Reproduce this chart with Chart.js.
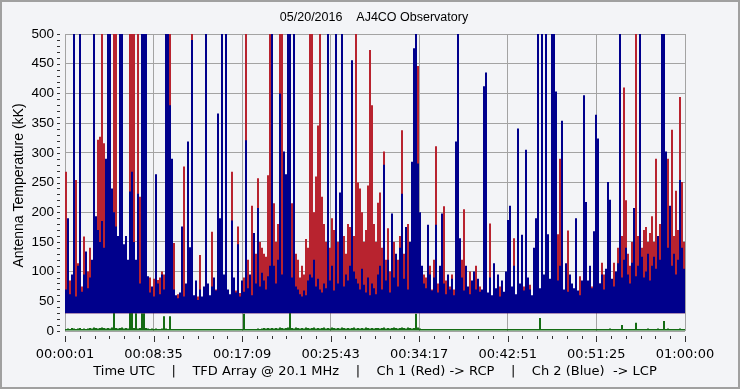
<!DOCTYPE html>
<html>
<head>
<meta charset="utf-8">
<script src="https://cdn.jsdelivr.net/npm/chart.js@4/dist/chart.umd.min.js"></script>
<style>
html,body{margin:0;padding:0;background:#F3F4F7;overflow:hidden;}
canvas{display:block;}
</style>
</head>
<body>
<canvas id="c" width="740" height="389"></canvas>
<script>
// ---- tick labels ----
const timeLabels = ['00:00:01','00:08:35','00:17:09','00:25:43','00:34:17','00:42:51','00:51:25','01:00:00'];
const timeSeconds = [1, 515, 1029, 1543, 2057, 2571, 3085, 3600];
const chartTitle = '05/20/2016    AJ4CO Observatory';
const yTitle = 'Antenna Temperature (kK)';
const xTitle = 'Time UTC    |    TFD Array @ 20.1 MHz    |    Ch 1 (Red) -> RCP    |    Ch 2 (Blue)  -> LCP';

// ---- series: peak antenna temperature (kK) per time column ----
const ch1Red = [
 268,60,85,70,80,254,114,60,75,159,90,100,140,95,110,150,322,327,520,316,282,150,140,160,520,520,150,130,120,110,130,100,520,520,520,110,520,226,520,520,200,80,90,70,88,95,86,90,100,95,110,520,
 520,100,148,55,62,50,70,277,60,75,85,520,55,80,58,128,52,65,80,60,55,167,62,70,75,90,85,75,88,62,60,268,72,68,176,64,75,90,520,120,90,211,110,130,257,150,140,130,125,262,520,150,
 215,150,180,520,520,260,240,200,170,215,160,130,120,90,110,95,155,140,520,520,200,260,346,520,226,180,150,163,140,190,170,274,150,140,120,160,130,180,175,307,160,520,250,240,200,150,170,245,473,380,180,150,
 216,233,140,302,120,173,100,90,150,80,120,160,338,130,85,180,95,100,150,300,446,110,80,95,90,75,110,70,120,311,80,72,90,210,85,66,75,95,70,80,90,75,120,205,95,70,100,80,95,110,85,75,
 52,60,65,50,181,58,48,62,50,75,60,48,55,60,65,58,156,45,60,70,55,75,62,60,78,55,50,65,60,52,62,58,65,60,62,55,65,75,163,290,62,60,55,169,65,58,70,60,65,92,55,60,
 90,80,100,75,110,90,105,80,115,95,85,90,100,80,115,95,140,110,160,410,220,130,110,150,140,520,160,145,140,170,175,150,165,193,150,290,140,180,160,150,170,290,150,339,160,236,170,394,251,150
];
const ch2Blue = [
 70,190,62,95,520,58,110,520,66,95,134,72,90,120,520,193,170,150,185,140,290,520,520,240,200,176,160,520,520,146,160,120,235,268,150,120,231,80,520,520,520,92,65,75,58,264,80,62,95,70,520,520,
 380,290,70,60,55,65,176,58,80,319,141,490,60,85,52,70,58,75,520,80,60,75,90,68,366,190,520,95,520,70,62,186,90,65,146,58,85,66,321,72,95,60,165,80,207,75,98,85,70,92,110,520,
 110,80,120,400,95,302,264,520,520,90,520,75,70,62,58,68,60,85,95,90,120,75,88,70,65,80,72,520,85,110,68,520,80,233,520,75,95,85,110,456,100,88,80,70,105,78,65,90,60,80,72,62,
 95,110,70,280,85,120,65,198,90,130,75,140,231,88,175,70,150,285,476,520,282,200,110,80,72,179,95,68,90,179,65,110,198,80,62,95,70,88,60,319,520,156,90,68,110,75,62,85,100,70,88,66,
 70,412,435,65,90,60,114,72,95,58,85,66,100,187,211,75,110,62,341,80,162,68,305,90,70,60,140,190,520,72,520,95,520,163,88,520,520,403,85,110,354,70,114,66,95,80,72,190,68,60,85,397,
 217,85,110,72,168,364,324,80,95,70,105,251,221,88,75,100,114,520,90,120,140,95,80,115,207,92,110,520,125,90,100,130,85,110,125,105,160,120,520,520,302,140,211,110,130,95,120,254,140,105
];
const arrayBaseline = [
 3,4,3,5,4,3,4,5,3,4,3,4,5,4,6,5,4,5,6,5,4,5,4,6,35,5,4,5,6,4,5,4,39,38,5,30,4,5,30,30,5,4,3,4,3,4,3,3,4,25,4,3,
 25,2,2,1,2,1,2,1,1,2,1,2,1,2,1,1,2,1,2,1,1,2,1,2,1,1,2,1,2,1,1,2,1,1,2,1,2,29,1,2,1,2,3,3,4,3,4,5,4,5,4,5,
 4,5,4,6,5,4,5,6,39,5,4,6,5,4,5,4,6,5,4,5,6,4,5,4,5,6,4,5,4,6,5,4,5,4,6,5,4,5,4,5,6,4,5,4,5,4,6,5,4,5,4,5,
 5,4,5,6,4,5,4,5,6,5,4,5,6,5,4,6,5,4,5,29,6,4,3,2,2,1,2,1,1,2,1,2,1,1,2,1,2,1,1,2,1,1,2,1,2,1,1,2,1,2,1,2,
 1,2,1,1,2,1,2,1,1,2,1,2,1,1,2,1,1,2,1,2,1,1,2,1,2,1,1,2,1,22,2,1,2,1,1,2,1,2,1,1,2,3,2,1,2,1,2,3,1,2,1,2,
 1,2,3,2,1,2,3,2,1,2,3,2,4,2,3,2,3,2,10,3,2,3,2,3,2,14,3,2,3,2,3,4,2,3,2,3,4,3,2,17,3,4,3,2,3,2,3,4,3,3
];
const columns = ch2Blue.map((_, i) => i);

const BG = '#F3F4F7';
const GRID = '#A3A3A3';
const BLUE = '#00008C';
const RED = '#B8232F';
const GREEN = '#146C14';

const deco = {
  id: 'deco',
  beforeDraw(chart) {
    const c = chart.ctx;
    c.save();
    c.fillStyle = BG;
    c.fillRect(0, 0, chart.width, chart.height);
    c.restore();
  },
  afterDraw(chart) {
    const c = chart.ctx;
    const ys = chart.scales.y, xs = chart.scales.xt, a = chart.chartArea;
    c.save();
    c.strokeStyle = '#333';
    c.lineWidth = 1;
    c.beginPath();
    for (let v = 0; v <= 500; v += 10) {
      const py = Math.round(ys.getPixelForValue(v)) + 0.5;
      c.moveTo(a.left - 8, py); c.lineTo(a.left - 5, py);
    }
    for (let k = 0; k < timeSeconds.length; k++) {
      const px = Math.round(xs.getPixelForValue(timeSeconds[k])) + 0.5;
      c.moveTo(px, a.bottom + 5); c.lineTo(px, a.bottom + 11);
      if (k < timeSeconds.length - 1) {
        for (let m = 1; m < 6; m++) {
          const v = timeSeconds[k] + (timeSeconds[k + 1] - timeSeconds[k]) * m / 6;
          const pm = Math.round(xs.getPixelForValue(v)) + 0.5;
          c.moveTo(pm, a.bottom + 5); c.lineTo(pm, a.bottom + 8);
        }
      }
    }
    c.stroke();
    c.fillStyle = '#000';
    c.textAlign = 'center';
    c.textBaseline = 'middle';
    c.font = '12.5px "Liberation Sans", Arial, sans-serif';
    c.fillText(chartTitle, (a.left + a.right) / 2 - 1, 18);
    c.font = '13px "DejaVu Sans", sans-serif';
    c.fillText(xTitle, (a.left + a.right) / 2, 372);
    c.save();
    c.translate(19, (a.top + a.bottom) / 2 + 3);
    c.rotate(-Math.PI / 2);
    c.font = '14px "Liberation Sans", Arial, sans-serif';
    c.fillText(yTitle, 0, 0);
    c.restore();
    c.strokeStyle = '#A0A0A0';
    c.lineWidth = 2;
    c.strokeRect(1, 1, chart.width - 2, chart.height - 2);
    c.restore();
  }
};

const barCommon = {
  type: 'bar',
  xAxisID: 'x',
  yAxisID: 'y',
  grouped: false,
  barPercentage: 1,
  categoryPercentage: 1,
  borderWidth: 0,
  inflateAmount: 0
};

new Chart(document.getElementById('c'), {
  data: {
    labels: columns,
    datasets: [
      Object.assign({}, barCommon, { label: 'Ch 2 (Blue) LCP', data: ch2Blue, base: 30, backgroundColor: BLUE, order: 1 }),
      Object.assign({}, barCommon, { label: 'Ch 1 (Red) RCP', data: ch1Red, base: 30, backgroundColor: RED, order: 2 }),
      Object.assign({}, barCommon, { label: 'Array', data: arrayBaseline, base: 0, minBarLength: 2, backgroundColor: GREEN, order: 3 })
    ]
  },
  options: {
    responsive: false,
    animation: false,
    devicePixelRatio: 1,
    layout: { padding: { left: 0, right: 55, top: 34, bottom: 0 } },
    plugins: { legend: { display: false }, tooltip: { enabled: false }, title: { display: false } },
    scales: {
      x: { type: 'category', display: false, offset: true },
      xt: {
        type: 'linear', position: 'bottom', min: timeSeconds[0], max: timeSeconds[timeSeconds.length - 1],
        afterBuildTicks: (s) => { s.ticks = timeSeconds.map(v => ({ value: v })); },
        afterFit: (s) => { s.height = 58; },
        grid: { color: GRID, drawTicks: false },
        border: { display: false },
        ticks: {
          autoSkip: false, maxRotation: 0, padding: 16, color: '#000',
          font: { family: '"DejaVu Sans", sans-serif', size: 13 },
          callback: (v, i) => timeLabels[i]
        }
      },
      y: {
        type: 'linear', position: 'left', min: 0, max: 500,
        afterFit: (s) => { s.width = 65; },
        grid: { color: GRID, drawTicks: false },
        border: { display: false },
        ticks: {
          stepSize: 50, padding: 11, color: '#000',
          font: { family: '"Liberation Sans", Arial, sans-serif', size: 13.5 }
        }
      }
    }
  },
  plugins: [deco]
});
</script>
</body>
</html>
